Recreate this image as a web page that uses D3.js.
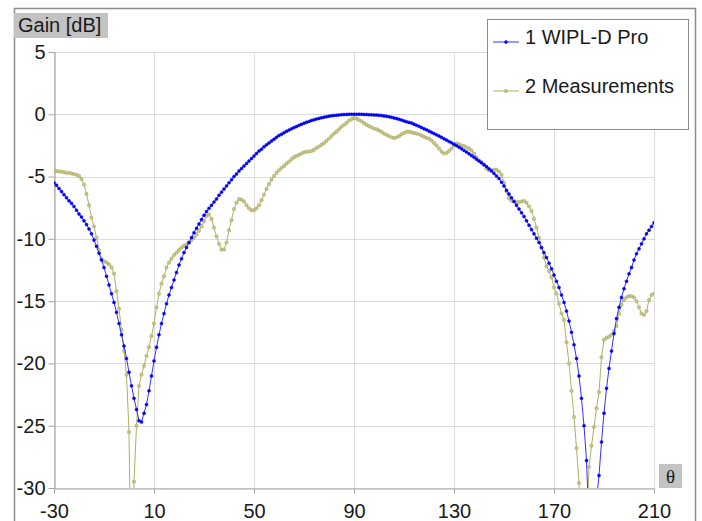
<!DOCTYPE html>
<html>
<head>
<meta charset="utf-8">
<script src="https://cdn.jsdelivr.net/npm/d3@7"></script>
<style>
  html, body { margin: 0; padding: 0; background: #ffffff; }
  svg { display: block; }
  text { font-family: "Liberation Sans", Arial, sans-serif; }
</style>
</head>
<body>
<svg id="chart" width="702" height="521"></svg>
<script>
// ---------------- DATA ----------------
const thetaStart = -30;
const thetaStep = 1;
const xTicks = [-30, 10, 50, 90, 130, 170, 210];
const yTicks = [5, 0, -5, -10, -15, -20, -25, -30];
const seriesNames = ["1 WIPL-D Pro", "2 Measurements"];
const yAxisTitle = "Gain [dB]";
const xAxisTitle = "\u03b8";

// 1 WIPL-D Pro, theta = -30 .. 210 (1 deg step)
const wiplGain = [
  -5.5, -5.7, -5.95, -6.2, -6.45, -6.7, -6.95, -7.15, -7.4, -7.7,        // -30..-21
  -8.0, -8.25, -8.55, -8.85, -9.2, -9.6, -10.1, -10.6, -11.15, -11.7,    // -20..-11
  -12.3, -13.0, -13.7, -14.4, -15.1, -15.9, -16.8, -17.7, -18.6, -19.6,  // -10..-1
  -20.7, -21.8, -22.8, -23.7, -24.6, -24.7, -24.0, -23.3, -22.2, -21.0,  // 0..9
  -19.8, -18.7, -17.7, -16.8, -16.0, -15.2, -14.5, -13.9, -13.3, -12.7,  // 10..19
  -12.1, -11.6, -11.1, -10.7, -10.3, -9.9, -9.5, -9.15, -8.8, -8.45,     // 20..29
  -8.1, -7.8, -7.55, -7.3, -7.05, -6.8, -6.5, -6.25, -6.0, -5.75,        // 30..39
  -5.5, -5.25, -5.0, -4.8, -4.55, -4.35, -4.15, -3.95, -3.75, -3.55,     // 40..49
  -3.35, -3.15, -2.95, -2.8, -2.6, -2.45, -2.3, -2.15, -2.0, -1.85,      // 50..59
  -1.7, -1.6, -1.48, -1.37, -1.27, -1.17, -1.07, -0.98, -0.89, -0.8,     // 60..69
  -0.72, -0.64, -0.57, -0.5, -0.44, -0.38, -0.33, -0.28, -0.23, -0.19,   // 70..79
  -0.15, -0.12, -0.09, -0.07, -0.05, -0.03, -0.02, -0.01, 0, 0,          // 80..89
  0, 0, 0, 0, -0.01, -0.02, -0.03, -0.04, -0.05, -0.06,                  // 90..99
  -0.08, -0.1, -0.13, -0.16, -0.2, -0.24, -0.29, -0.34, -0.4, -0.46,     // 100..109
  -0.53, -0.6, -0.65, -0.7, -0.79, -0.88, -0.97, -1.06, -1.16, -1.25,    // 110..119
  -1.35, -1.45, -1.55, -1.65, -1.75, -1.85, -1.96, -2.07, -2.18, -2.29,  // 120..129
  -2.4, -2.52, -2.64, -2.77, -2.9, -3.03, -3.17, -3.31, -3.45, -3.6,     // 130..139
  -3.75, -3.9, -4.05, -4.2, -4.38, -4.55, -4.75, -4.95, -5.15, -5.45,    // 140..149
  -5.75, -6.1, -6.4, -6.7, -7.0, -7.3, -7.6, -7.9, -8.2, -8.55,          // 150..159
  -8.9, -9.25, -9.6, -9.95, -10.3, -10.7, -11.1, -11.5, -11.95, -12.4,   // 160..169
  -12.9, -13.4, -13.9, -14.5, -15.1, -15.8, -16.6, -17.5, -18.5, -19.6,  // 170..179
  -21.0, -22.8, -25.0, -27.8, -33, -45, -40, -31, -29.0, -26.3,          // 180..189
  -24.0, -22.0, -20.4, -19.0, -17.6, -16.4, -15.5, -14.7, -14.0, -13.4,  // 190..199
  -12.8, -12.3, -11.7, -11.2, -10.8, -10.4, -10.0, -9.6, -9.3, -9.0,     // 200..209
  -8.7                                                                   // 210
];

// 2 Measurements, theta = -30 .. 210 (1 deg step)
const measGain = [
  -4.5, -4.55, -4.6, -4.6, -4.65, -4.7, -4.7, -4.75, -4.8, -4.85,        // -30..-21
  -4.95, -5.2, -5.65, -6.4, -7.3, -8.3, -9.0, -9.9, -10.9, -11.6,        // -20..-11
  -11.8, -11.9, -12.05, -12.3, -12.8, -14.2, -15.6, -17.3, -19.0, -20.9, // -10..-1
  -25.5, -40, -29.5, -25, -21.8, -20.9, -20.2, -19.4, -18.7, -17.8,      // 0..9
  -16.8, -15.5, -14.4, -13.6, -13.0, -12.3, -11.9, -11.6, -11.3, -11.1,  // 10..19
  -10.9, -10.7, -10.55, -10.45, -10.3, -10.1, -9.9, -9.65, -9.35, -9.0,  // 20..29
  -8.6, -8.15, -8.05, -8.4, -9.1, -9.8, -10.4, -10.85, -10.85, -10.3,    // 30..39
  -9.3, -8.5, -7.6, -7.1, -6.8, -6.85, -7.0, -7.3, -7.55, -7.7,          // 40..49
  -7.7, -7.55, -7.3, -6.9, -6.45, -6.0, -5.6, -5.25, -4.95, -4.7,        // 50..59
  -4.5, -4.3, -4.15, -3.95, -3.8, -3.6, -3.45, -3.35, -3.25, -3.15,      // 60..69
  -3.05, -3.0, -3.0, -2.95, -2.85, -2.7, -2.6, -2.45, -2.3, -2.15,       // 70..79
  -1.95, -1.75, -1.55, -1.4, -1.2, -1.0, -0.85, -0.7, -0.5, -0.4,        // 80..89
  -0.3, -0.35, -0.45, -0.55, -0.7, -0.85, -0.95, -1.05, -1.15, -1.2,     // 90..99
  -1.3, -1.4, -1.55, -1.65, -1.75, -1.85, -1.9, -1.85, -1.75, -1.6,      // 100..109
  -1.5, -1.4, -1.4, -1.45, -1.5, -1.55, -1.6, -1.7, -1.8, -1.9,          // 110..119
  -1.95, -2.1, -2.3, -2.5, -2.75, -3.0, -3.15, -3.1, -2.95, -2.75,       // 120..129
  -2.5, -2.35, -2.4, -2.5, -2.55, -2.65, -2.75, -2.9, -3.15, -3.45,      // 130..139
  -3.7, -3.85, -4.05, -4.35, -4.5, -4.5, -4.45, -4.45, -4.6, -4.85,      // 140..149
  -5.5, -6.2, -6.75, -6.95, -7.0, -7.05, -7.05, -7.0, -6.95, -7.1,       // 150..159
  -7.4, -7.75, -8.4, -9.1, -9.9, -10.7, -11.5, -12.2, -12.6, -13.1,      // 160..169
  -13.9, -14.4, -15.2, -16.0, -16.5, -18.3, -20.0, -22.2, -24.3, -26.8,  // 170..179
  -29.6, -38, -45, -34, -28.3, -26.6, -25.1, -23.6, -22.3, -19.5,        // 180..189
  -18.1, -17.95, -17.85, -17.7, -17.4, -17.0, -16.0, -15.3, -14.9, -14.7,// 190..199
  -14.6, -14.6, -14.7, -15.0, -15.5, -16.0, -16.1, -15.8, -14.9, -14.5,  // 200..209
  -14.4                                                                  // 210
];

// ---------------- CHART ----------------
const svg = d3.select("#chart");
const plot = { left: 54, right: 654, top: 52, bottom: 488 };
const FONT = "'Liberation Sans', Arial, sans-serif";

const x = d3.scaleLinear().domain([-30, 210]).range([plot.left, plot.right]);
const y = d3.scaleLinear().domain([-30, 5]).range([plot.bottom, plot.top]);

const toPoints = arr => arr.map((v, i) => ({ t: thetaStart + i * thetaStep, v }));
const wiplPts = toPoints(wiplGain);
const measPts = toPoints(measGain);

// outer frame
svg.append("rect")
  .attr("x", 14.5).attr("y", 8.5)
  .attr("width", 681).attr("height", 530)
  .attr("fill", "#ffffff").attr("stroke", "#8c8c8c").attr("stroke-width", 1.5);

// gridlines
svg.append("g").selectAll("line").data(yTicks).join("line")
  .attr("x1", plot.left).attr("x2", plot.right)
  .attr("y1", d => Math.round(y(d)) + 0.5).attr("y2", d => Math.round(y(d)) + 0.5)
  .attr("stroke", "#dcdcdc").attr("stroke-width", 1);
svg.append("g").selectAll("line").data(xTicks).join("line")
  .attr("y1", plot.top).attr("y2", plot.bottom)
  .attr("x1", d => Math.round(x(d)) + 0.5).attr("x2", d => Math.round(x(d)) + 0.5)
  .attr("stroke", "#dcdcdc").attr("stroke-width", 1);

// axes
const yAxis = svg.append("g")
  .attr("transform", `translate(${plot.left + 0.5},0)`)
  .call(d3.axisLeft(y).tickValues(yTicks).tickSize(6).tickSizeOuter(0).tickPadding(3));
const xAxis = svg.append("g")
  .attr("transform", `translate(0,${plot.bottom + 0.5})`)
  .call(d3.axisBottom(x).tickValues(xTicks).tickSize(5).tickSizeOuter(0).tickPadding(10));
[yAxis, xAxis].forEach(g => {
  g.select(".domain").attr("stroke", "#a6a6a6").attr("stroke-width", 1.2);
  g.selectAll(".tick line").attr("stroke", "#a6a6a6");
  g.selectAll(".tick text")
    .attr("fill", "#1a1a1a")
    .style("font-size", "20px")
    .style("font-family", FONT)
    .text(d => d < 0 ? "-" + Math.abs(d) : String(d));
});

// clip
svg.append("clipPath").attr("id", "plotclip")
  .append("rect").attr("x", plot.left).attr("y", plot.top)
  .attr("width", plot.right - plot.left).attr("height", plot.bottom - plot.top);

const line = d3.line().x(d => x(d.t)).y(d => y(d.v));
const series = [
  { name: seriesNames[0], pts: wiplPts, stroke: "#3333ff", mfill: "#0000ff", mstroke: "#0000ee", r: 1.5 },
  { name: seriesNames[1], pts: measPts, stroke: "#b0b066", mfill: "#c6c68c", mstroke: "#a3a355", r: 1.7 }
];

const plotG = svg.append("g").attr("clip-path", "url(#plotclip)");
[series[1], series[0]].forEach(s => {
  const g = plotG.append("g");
  g.append("path").datum(s.pts)
    .attr("d", line).attr("fill", "none")
    .attr("stroke", s.stroke).attr("stroke-width", 1);
  g.selectAll("circle").data(s.pts).join("circle")
    .attr("cx", d => x(d.t)).attr("cy", d => y(d.v)).attr("r", s.r)
    .attr("fill", s.mfill).attr("stroke", s.mstroke).attr("stroke-width", 0.5);
});

// y axis title box
const yt = svg.append("g");
yt.append("rect").attr("x", 14).attr("y", 13).attr("width", 94).attr("height", 25).attr("fill", "#c3c3c3");
yt.append("text").attr("x", 18).attr("y", 32).text(yAxisTitle)
  .style("font-size", "20px").style("font-family", FONT).attr("fill", "#1a1a1a");

// x axis title box
const xt = svg.append("g");
xt.append("rect").attr("x", 659).attr("y", 464).attr("width", 23).attr("height", 24).attr("fill", "#c3c3c3");
xt.append("text").attr("x", 670.5).attr("y", 483).attr("text-anchor", "middle")
  .style("font-family", "'Liberation Serif', 'DejaVu Serif', serif").style("font-size", "19px")
  .attr("fill", "#1a1a1a").text(xAxisTitle);

// legend
const lg = svg.append("g");
lg.append("rect").attr("x", 487.5).attr("y", 19.5).attr("width", 201).attr("height", 110)
  .attr("fill", "#ffffff").attr("stroke", "#8c8c8c").attr("stroke-width", 1);
const legendY = [42, 91];
series.forEach((s, i) => {
  const ly = legendY[i];
  lg.append("line").attr("x1", 493).attr("x2", 519).attr("y1", ly).attr("y2", ly)
    .attr("stroke", s.stroke).attr("stroke-width", 1);
  lg.append("circle").attr("cx", 506).attr("cy", ly).attr("r", s.r)
    .attr("fill", s.mfill).attr("stroke", s.mstroke).attr("stroke-width", 0.5);
  lg.append("text").attr("x", 525).attr("y", ly + 2).text(s.name)
    .style("font-size", "20px").style("font-family", FONT).attr("fill", "#1a1a1a");
});
</script>
</body>
</html>
